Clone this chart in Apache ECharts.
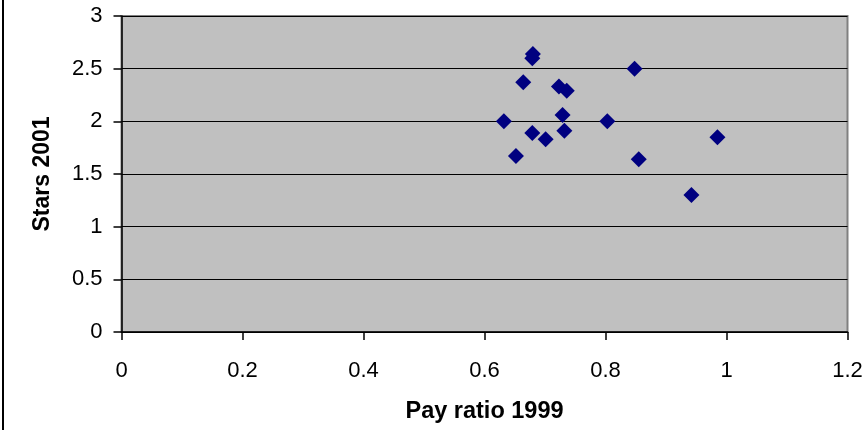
<!DOCTYPE html>
<html>
<head>
<meta charset="utf-8">
<script src="https://cdn.jsdelivr.net/npm/echarts@6/dist/echarts.min.js"></script>
<style>
html,body{margin:0;padding:0;background:#fff;}
#c{width:867px;height:430px;}
</style>
</head>
<body>
<div id="c"></div>
<script>
// Data
const payRatio1999 = [0.680, 0.679, 0.848, 0.664, 0.723, 0.736, 0.729, 0.632, 0.803, 0.679, 0.732, 0.701, 0.652, 0.985, 0.855, 0.942];
const stars2001    = [2.64, 2.60, 2.50, 2.37, 2.33, 2.29, 2.06, 2.00, 2.00, 1.89, 1.91, 1.83, 1.67, 1.85, 1.64, 1.30];
const xTitle = 'Pay ratio 1999';
const yTitle = 'Stars 2001';

const points = payRatio1999.map((x, i) => [x, stars2001[i]]);
const font = '"Liberation Sans", Arial, sans-serif';

const chart = echarts.init(document.getElementById('c'), null, {renderer: 'canvas'});
chart.setOption({
  animation: false,
  backgroundColor: '#ffffff',
  grid: {left: 121.5, right: 19.5, top: 16, bottom: 98, show: true,
         backgroundColor: '#c0c0c0', borderColor: '#808080', borderWidth: 2},
  xAxis: {
    type: 'value', min: 0, max: 1.2, interval: 0.2,
    name: xTitle, nameLocation: 'middle', nameGap: 68,
    nameTextStyle: {fontFamily: font, fontSize: 23.5, fontWeight: 'bold', color: '#000'},
    axisLine: {show: true, onZero: false, lineStyle: {color: '#000', width: 1.5}},
    axisTick: {show: true, inside: false, length: 8, lineStyle: {color: '#000', width: 1.5}},
    axisLabel: {fontFamily: font, fontSize: 22, color: '#000', margin: 28,
                formatter: v => String(Math.round(v * 10) / 10)},
    splitLine: {show: false}
  },
  yAxis: {
    type: 'value', min: 0, max: 3, interval: 0.5,
    name: yTitle, nameLocation: 'middle', nameGap: 67, nameRotate: 90,
    nameTextStyle: {fontFamily: font, fontSize: 23, fontWeight: 'bold', color: '#000'},
    axisLine: {show: true, onZero: false, lineStyle: {color: '#000', width: 1.5}},
    axisTick: {show: true, inside: false, length: 8, lineStyle: {color: '#000', width: 1.5}},
    axisLabel: {fontFamily: font, fontSize: 22, color: '#000', margin: 19},
    splitLine: {show: true, lineStyle: {color: '#000', width: 1.2}}
  },
  series: [{
    type: 'scatter',
    data: points,
    symbol: 'diamond',
    symbolSize: [16, 16],
    itemStyle: {color: '#000080', opacity: 1}
  }],
  graphic: [{
    type: 'line', shape: {x1: 3, y1: 0, x2: 3, y2: 430},
    style: {stroke: '#000', lineWidth: 2}
  }]
});
</script>
</body>
</html>
